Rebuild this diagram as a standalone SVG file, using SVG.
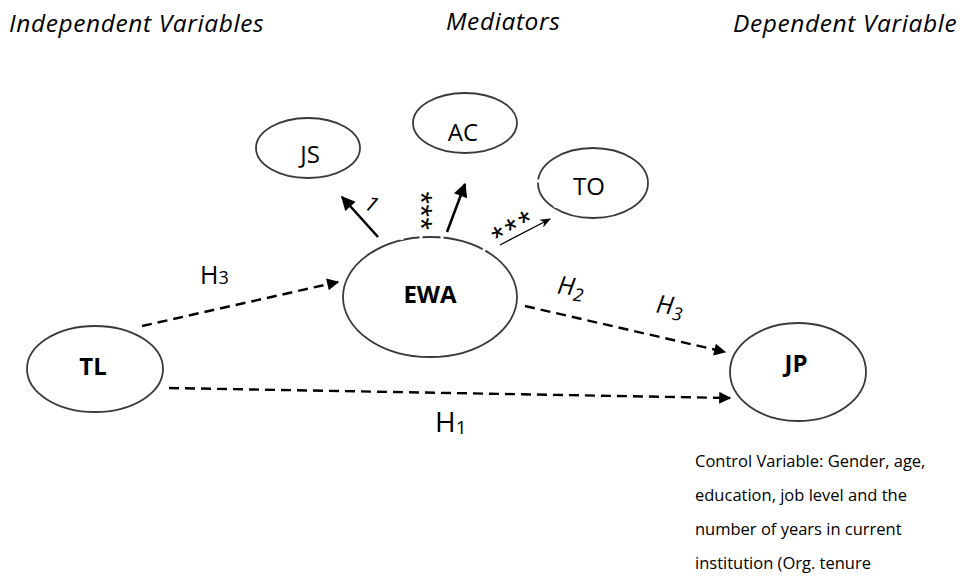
<svg xmlns="http://www.w3.org/2000/svg" width="960" height="578" viewBox="0 0 960 578">
  <defs>
    <marker id="head" viewBox="0 0 10 10" refX="9" refY="5" markerWidth="14" markerHeight="12" markerUnits="userSpaceOnUse" orient="auto">
      <path d="M0,0 L10,5 L0,10 Z" fill="#000"/>
    </marker>
    <marker id="headBig" viewBox="0 0 10 10" refX="9" refY="5" markerWidth="17" markerHeight="14" markerUnits="userSpaceOnUse" orient="auto">
      <path d="M0,0 L10,5 L0,10 Z" fill="#000"/>
    </marker>
    <marker id="headThin" viewBox="0 0 10 10" refX="9" refY="5" markerWidth="16" markerHeight="11" markerUnits="userSpaceOnUse" orient="auto">
      <path d="M0,1 L10,5 L0,9 L3,5 Z" fill="#000"/>
    </marker>
    <style>
      .node ellipse { fill: #fff; stroke: #3a3a3a; stroke-width: 1.8; }
      .lbl { font-family: "Open Sans", "Liberation Sans", sans-serif; font-size: 24px; fill: #000; text-anchor: middle; }
      .bold { font-weight: bold; }
      .head { font-family: "Open Sans", "Liberation Sans", sans-serif; font-style: italic; font-size: 24.5px; letter-spacing: 0.6px; fill: #000; }
      .dash { fill: none; stroke: #000; stroke-width: 2.4; stroke-dasharray: 10 6; }
      .solid { fill: none; stroke: #000; stroke-width: 2.6; }
      .thin { fill: none; stroke: #000; stroke-width: 1.3; }
      .hyp { font-family: "Open Sans", "Liberation Sans", sans-serif; fill: #000; }
      .star { font-family: "Liberation Sans", sans-serif; font-size: 32px; fill: #000; text-anchor: middle; }
      .gap { stroke: #fff; stroke-width: 3; }
      .note { font-family: "Open Sans", "Liberation Sans", sans-serif; font-size: 16.5px; fill: #000; }
    </style>
  </defs>

  <!-- column headings -->
  <text class="head" x="9" y="32">Independent Variables</text>
  <text class="head" x="446" y="30">Mediators</text>
  <text class="head" x="733" y="32">Dependent Variable</text>

  <!-- nodes -->
  <g id="JS" class="node">
    <ellipse cx="308" cy="148" rx="52" ry="30"/>
    <text class="lbl" x="310" y="163">JS</text>
  </g>
  <g id="AC" class="node">
    <ellipse cx="465" cy="123" rx="52" ry="30"/>
    <text class="lbl" x="463" y="141">AC</text>
  </g>
  <g id="TO" class="node">
    <ellipse cx="593" cy="183" rx="55" ry="35"/>
    <text class="lbl" x="589" y="195">TO</text>
  </g>
  <g id="EWA" class="node">
    <ellipse cx="430" cy="297" rx="87" ry="60"/>
    <text class="lbl bold" x="430" y="303" font-size="25">EWA</text>
  </g>
  <g id="TL" class="node">
    <ellipse cx="95" cy="369" rx="68" ry="43"/>
    <text class="lbl bold" x="93" y="375">TL</text>
  </g>
  <g id="JP" class="node">
    <ellipse cx="798" cy="372" rx="68" ry="49"/>
    <text class="lbl bold" x="796" y="372" font-size="25">JP</text>
  </g>

  <!-- connectors -->
  <g id="connectors">
    <line class="dash" x1="142" y1="326" x2="338" y2="282" marker-end="url(#head)"/>
    <line class="dash" x1="169" y1="388" x2="730" y2="398" marker-end="url(#head)"/>
    <line class="dash" x1="525" y1="306" x2="725" y2="352" marker-end="url(#head)"/>
    <line class="solid" x1="378" y1="237" x2="342" y2="197" marker-end="url(#headBig)"/>
    <line class="solid" x1="447" y1="232" x2="465" y2="184" marker-end="url(#headBig)"/>
    <line class="thin" x1="500" y1="245" x2="550" y2="219" marker-end="url(#headThin)"/>
    <!-- small breaks in the outlines where the arrows leave EWA and reach TO -->
    <line class="gap" x1="384" y1="237" x2="386" y2="243"/>
    <line class="gap" x1="401" y1="233" x2="402" y2="240"/>
    <line class="gap" x1="421" y1="232" x2="421" y2="239"/>
    <line class="gap" x1="442" y1="232" x2="442" y2="239"/>
    <line class="gap" x1="486" y1="246" x2="483" y2="252"/>
    <line class="gap" x1="535" y1="181" x2="542" y2="181"/>
    <line class="gap" x1="554" y1="207" x2="559" y2="203"/>
  </g>

  <!-- path labels -->
  <text class="hyp" x="200" y="284" font-size="25">H<tspan font-size="18">3</tspan></text>
  <text class="hyp" x="557" y="295" font-size="25" font-style="italic" transform="rotate(8 570 290)">H<tspan font-size="18" dy="5">2</tspan></text>
  <text class="hyp" x="656" y="314" font-size="25" font-style="italic" transform="rotate(8 668 308)">H<tspan font-size="18" dy="5">3</tspan></text>
  <text class="hyp" x="435" y="432" font-size="28">H<tspan font-size="19" dy="2">1</tspan></text>
  <text class="hyp" font-size="22" transform="translate(367 210) rotate(40)" text-anchor="middle">1</text>
  <text class="star" letter-spacing="0.5" transform="translate(410 211) rotate(90)">***</text>
  <text class="star" letter-spacing="3" transform="translate(520 238) rotate(-30)">***</text>

  <!-- control variables note -->
  <text class="note" x="695" y="467">Control Variable: Gender, age,</text>
  <text class="note" x="695" y="501">education, job level and the</text>
  <text class="note" x="695" y="535">number of years in current</text>
  <text class="note" x="695" y="569">institution (Org. tenure</text>
</svg>
